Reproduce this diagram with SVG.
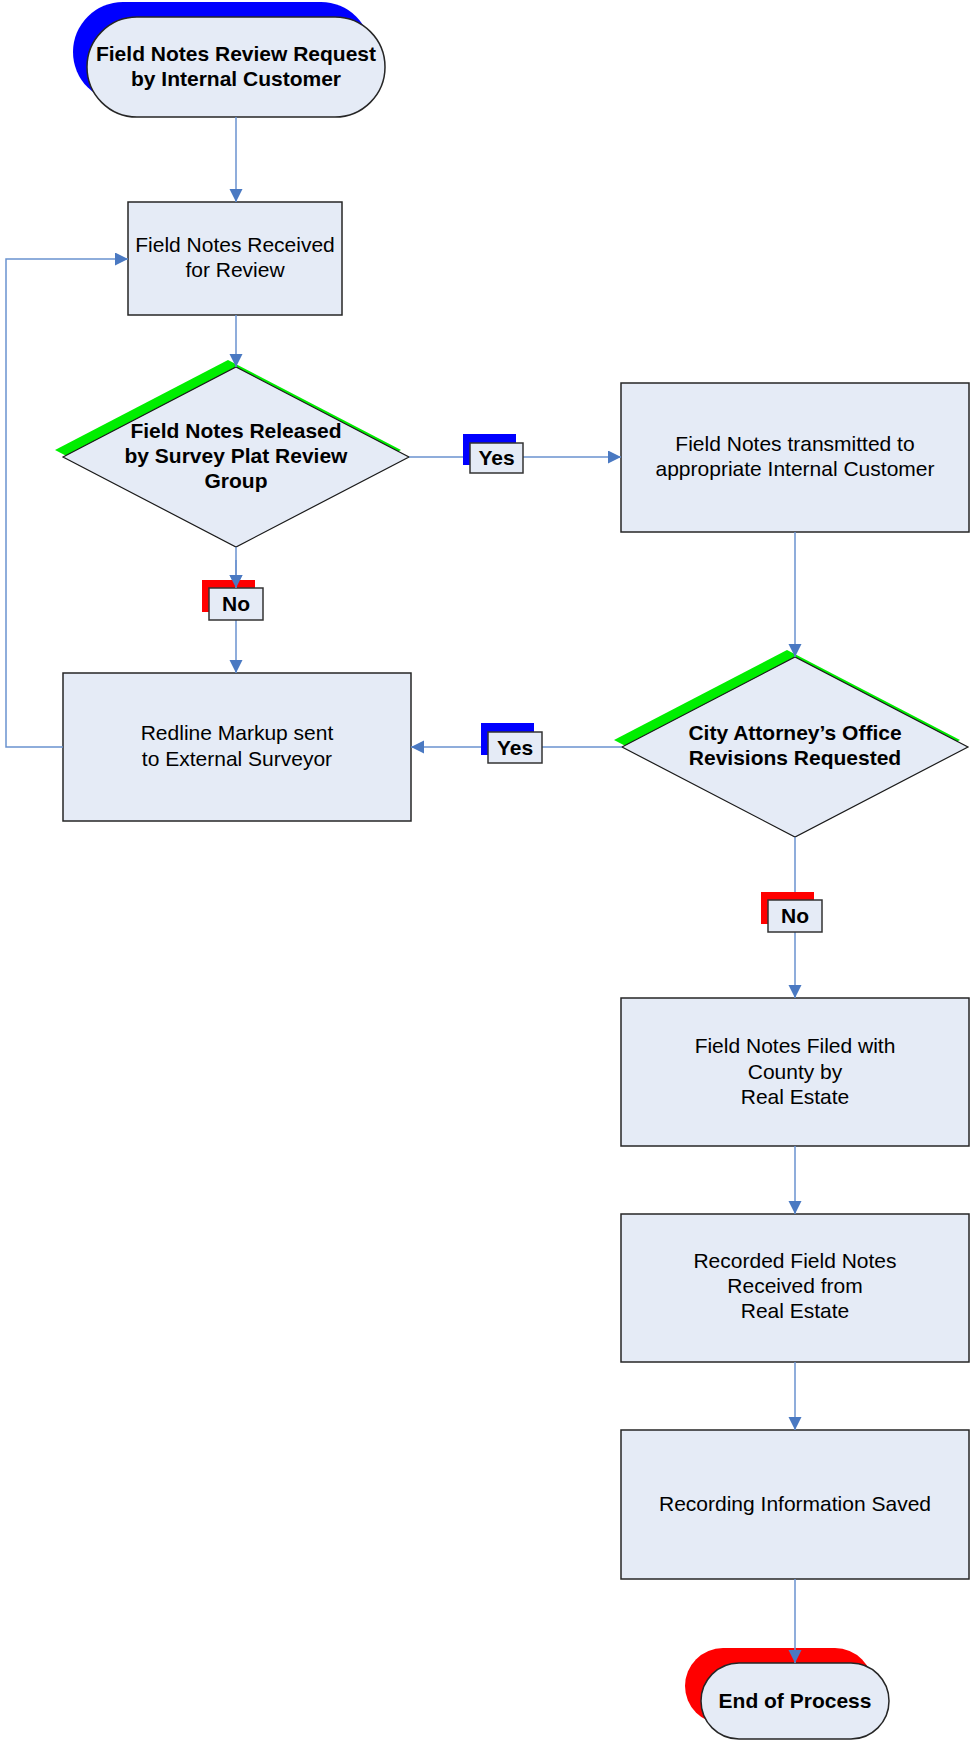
<svg xmlns="http://www.w3.org/2000/svg" width="971" height="1741" viewBox="0 0 971 1741">
  <style>
    .shape { fill: #e5ebf6; stroke: #262626; stroke-width: 1.5; }
    .dia { fill: #e5ebf6; stroke: #1a1a1a; stroke-width: 1.2; }
    .lbl { fill: #e5ebf6; stroke: #333333; stroke-width: 1.5; }
    .txt { font-family: "Liberation Sans", Arial, sans-serif; font-size: 21px; fill: #000000; text-anchor: middle; }
    .bold { font-weight: bold; }
    .conn { fill: none; stroke: #6a92cf; stroke-width: 1.5; }
  </style>
  <defs>
    <marker id="arrow" markerUnits="userSpaceOnUse" markerWidth="14" markerHeight="14" viewBox="0 0 14 14" refX="13" refY="6.5" orient="auto">
      <path d="M0,0 L13,6.5 L0,13 z" fill="#4a79c2"/>
    </marker>
  </defs>

  <rect width="971" height="1741" fill="#ffffff"/>

  <!-- Start terminator -->
  <g id="start">
    <rect x="73" y="2" width="298" height="100" rx="50" ry="50" fill="#0000ff"/>
    <rect class="shape" x="87" y="17" width="298" height="100" rx="50" ry="50"/>
    <text class="txt bold" x="236" y="61">Field Notes Review Request</text>
    <text class="txt bold" x="236" y="86">by Internal Customer</text>
  </g>

  <!-- Field Notes Received -->
  <g id="received">
    <rect class="shape" x="128" y="202" width="214" height="113"/>
    <text class="txt" x="235" y="252">Field Notes Received</text>
    <text class="txt" x="235" y="277">for Review</text>
  </g>

  <!-- Decision: released by review group -->
  <g id="released">
    <polygon points="55,450 228,360 401,450 228,540" fill="#00ee00"/>
    <polygon class="dia" points="63,457 236,367 409,457 236,547"/>
    <text class="txt bold" x="236" y="438">Field Notes Released</text>
    <text class="txt bold" x="236" y="463">by Survey Plat Review</text>
    <text class="txt bold" x="236" y="488">Group</text>
  </g>

  <!-- Field Notes transmitted -->
  <g id="transmitted">
    <rect class="shape" x="621" y="383" width="348" height="149"/>
    <text class="txt" x="795" y="451">Field Notes transmitted to</text>
    <text class="txt" x="795" y="476">appropriate Internal Customer</text>
  </g>

  <!-- Redline Markup -->
  <g id="redline">
    <rect class="shape" x="63" y="673" width="348" height="148"/>
    <text class="txt" x="237" y="740">Redline Markup sent</text>
    <text class="txt" x="237" y="766">to External Surveyor</text>
  </g>

  <!-- Decision: City Attorney -->
  <g id="attorney">
    <polygon points="614,740 787,650 960,740 787,830" fill="#00ee00"/>
    <polygon class="dia" points="622,747 795,657 968,747 795,837"/>
    <text class="txt bold" x="795" y="740">City Attorney’s Office</text>
    <text class="txt bold" x="795" y="765">Revisions Requested</text>
  </g>

  <!-- Field Notes Filed -->
  <g id="filed">
    <rect class="shape" x="621" y="998" width="348" height="148"/>
    <text class="txt" x="795" y="1053">Field Notes Filed with</text>
    <text class="txt" x="795" y="1079">County by</text>
    <text class="txt" x="795" y="1104">Real Estate</text>
  </g>

  <!-- Recorded Field Notes -->
  <g id="recorded">
    <rect class="shape" x="621" y="1214" width="348" height="148"/>
    <text class="txt" x="795" y="1268">Recorded Field Notes</text>
    <text class="txt" x="795" y="1293">Received from</text>
    <text class="txt" x="795" y="1318">Real Estate</text>
  </g>

  <!-- Recording Information Saved -->
  <g id="saved">
    <rect class="shape" x="621" y="1430" width="348" height="149"/>
    <text class="txt" x="795" y="1511">Recording Information Saved</text>
  </g>

  <!-- End terminator -->
  <g id="end">
    <rect x="685" y="1648" width="188" height="76" rx="38" ry="38" fill="#ff0000"/>
    <rect class="shape" x="701" y="1663" width="188" height="76" rx="38" ry="38"/>
    <text class="txt bold" x="795" y="1708">End of Process</text>
  </g>

  <!-- Connectors -->
  <g id="connectors">
    <path class="conn" d="M236,117 L236,202" marker-end="url(#arrow)"/>
    <path class="conn" d="M236,315 L236,367" marker-end="url(#arrow)"/>
    <path class="conn" d="M409,457 L463,457"/>
    <path class="conn" d="M523,457 L621,457" marker-end="url(#arrow)"/>
    <path class="conn" d="M236,547 L236,588" marker-end="url(#arrow)"/>
    <path class="conn" d="M236,620 L236,673" marker-end="url(#arrow)"/>
    <path class="conn" d="M795,532 L795,657" marker-end="url(#arrow)"/>
    <path class="conn" d="M622,747 L542,747"/>
    <path class="conn" d="M481,747 L411,747" marker-end="url(#arrow)"/>
    <path class="conn" d="M795,837 L795,892"/>
    <path class="conn" d="M795,932 L795,998" marker-end="url(#arrow)"/>
    <path class="conn" d="M795,1146 L795,1214" marker-end="url(#arrow)"/>
    <path class="conn" d="M795,1362 L795,1430" marker-end="url(#arrow)"/>
    <path class="conn" d="M795,1579 L795,1663" marker-end="url(#arrow)"/>
    <path class="conn" d="M63,747 L6,747 L6,259 L128,259" marker-end="url(#arrow)"/>
  </g>

  <!-- Branch labels -->
  <g id="yes-released">
    <rect x="463" y="434" width="53" height="31" fill="#0000ff"/>
    <rect class="lbl" x="470" y="443" width="53" height="30"/>
    <text class="txt bold" x="496.5" y="465">Yes</text>
  </g>
  <g id="no-released">
    <rect x="202" y="580" width="53" height="32" fill="#ff0000"/>
    <rect class="lbl" x="209" y="588" width="54" height="32"/>
    <text class="txt bold" x="236" y="611">No</text>
  </g>
  <path class="conn" d="M236,560 L236,588" marker-end="url(#arrow)"/>
  <g id="yes-attorney">
    <rect x="481" y="723" width="53" height="32" fill="#0000ff"/>
    <rect class="lbl" x="488" y="732" width="54" height="31"/>
    <text class="txt bold" x="515" y="755">Yes</text>
  </g>
  <g id="no-attorney">
    <rect x="761" y="892" width="53" height="32" fill="#ff0000"/>
    <rect class="lbl" x="768" y="900" width="54" height="32"/>
    <text class="txt bold" x="795" y="923">No</text>
  </g>
</svg>
